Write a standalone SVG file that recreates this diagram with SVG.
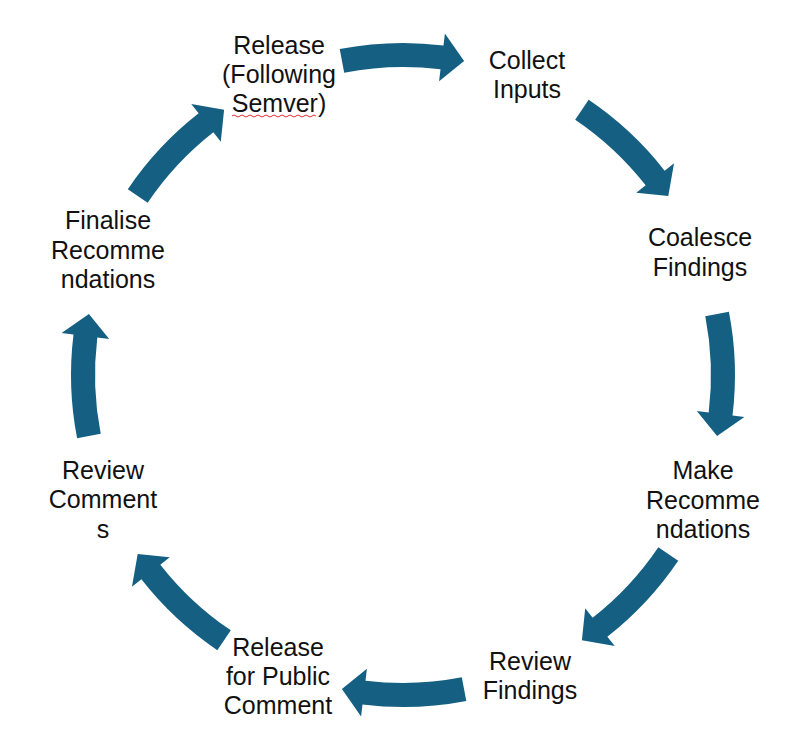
<svg xmlns="http://www.w3.org/2000/svg" xmlns:xlink="http://www.w3.org/1999/xlink" width="796" height="744" viewBox="0 0 796 744">
<style>
.lbl{font-family:"Liberation Sans",Arial,sans-serif;font-size:25px;fill:#111;text-anchor:middle}
.arr{fill:#156082}
.spell{fill:none;stroke:#e03030;stroke-width:1}
</style>
<defs>
<path id="arrow" class="arr" d="M336.7,49.1 A332,332 0 0 1 440.5,45.5 L441.9,33.6 L461.1,60.9 L436.1,81.2 L437.5,69.3 A308,308 0 0 0 341.2,72.7 Z"/>
</defs>
<rect width="796" height="744" fill="#fff"/>
<g id="connectors" transform="translate(3,0)">
<use xlink:href="#arrow" href="#arrow"/>
<use xlink:href="#arrow" href="#arrow" transform="rotate(45 400 375)"/>
<use xlink:href="#arrow" href="#arrow" transform="rotate(90 400 375)"/>
<use xlink:href="#arrow" href="#arrow" transform="rotate(135 400 375)"/>
<use xlink:href="#arrow" href="#arrow" transform="rotate(180 400 375)"/>
<use xlink:href="#arrow" href="#arrow" transform="rotate(225 400 375)"/>
<use xlink:href="#arrow" href="#arrow" transform="rotate(270 400 375)"/>
<use xlink:href="#arrow" href="#arrow" transform="rotate(315 400 375)"/>
</g>
<g id="release">
<text class="lbl" x="279" y="54">Release</text>
<text class="lbl" x="279" y="83">(Following</text>
<text class="lbl" x="279" y="112">Semver)</text>
<path class="spell" d="M232,116 q2,-2 4,0 t4,0 t4,0 t4,0 t4,0 t4,0 t4,0 t4,0 t4,0 t4,0 t4,0 t4,0 t4,0 t4,0 t4,0 t4,0 t4,0 t4,0 t4,0 t4,0 t4,0"/>
</g>
<g id="collect-inputs">
<text class="lbl" x="527" y="69">Collect</text>
<text class="lbl" x="527" y="98">Inputs</text>
</g>
<g id="coalesce-findings">
<text class="lbl" x="700" y="246">Coalesce</text>
<text class="lbl" x="700" y="276">Findings</text>
</g>
<g id="make-recommendations">
<text class="lbl" x="703" y="479">Make</text>
<text class="lbl" x="703" y="509">Recomme</text>
<text class="lbl" x="703" y="538">ndations</text>
</g>
<g id="review-findings">
<text class="lbl" x="530" y="670">Review</text>
<text class="lbl" x="530" y="699">Findings</text>
</g>
<g id="release-public-comment">
<text class="lbl" x="278" y="656">Release</text>
<text class="lbl" x="278" y="685">for Public</text>
<text class="lbl" x="278" y="714">Comment</text>
</g>
<g id="review-comments">
<text class="lbl" x="103" y="479">Review</text>
<text class="lbl" x="103" y="508">Comment</text>
<text class="lbl" x="103" y="538">s</text>
</g>
<g id="finalise-recommendations">
<text class="lbl" x="108" y="229">Finalise</text>
<text class="lbl" x="108" y="259">Recomme</text>
<text class="lbl" x="108" y="288">ndations</text>
</g>
</svg>
